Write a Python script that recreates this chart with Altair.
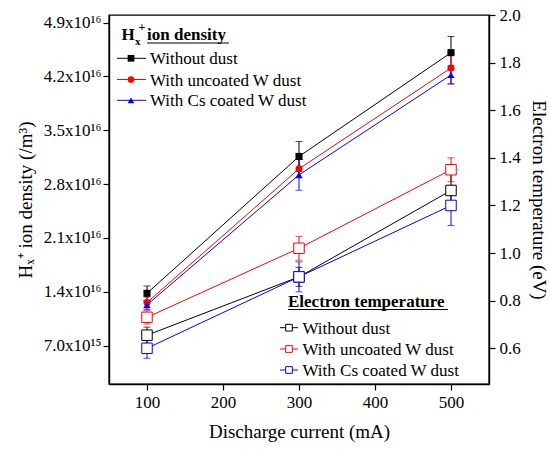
import altair as alt
import pandas as pd

# ---------------- data ----------------
currents = [100, 300, 500]
series = ["Without dust", "With uncoated W dust", "With Cs coated W dust"]
colors = ["#000000", "#ff0000", "#0000ff"]
shapes = ["square", "circle", "triangle-up"]

# H_x+ ion density, in units of 1e16 /m^3
ion_without = [1.38, 3.16, 4.51]
ion_uncoated = [1.26, 3.00, 4.31]
ion_cs = [1.23, 2.92, 4.22]
ion_err_without = [0.095, 0.195, 0.21]
ion_err_uncoated = [0.07, 0.12, 0.20]
ion_err_cs = [0.06, 0.20, 0.12]

# electron temperature (eV)
te_without = [0.655, 0.90, 1.263]
te_uncoated = [0.73, 1.02, 1.35]
te_cs = [0.60, 0.90, 1.20]
te_err_without = [0.034, 0.04, 0.08]
te_err_uncoated = [0.028, 0.05, 0.05]
te_err_cs = [0.042, 0.063, 0.084]

ion_ticks = [0.7, 1.4, 2.1, 2.8, 3.5, 4.2, 4.9]
ion_tick_labels = ["7.0x10\u00b9\u2075", "1.4x10\u00b9\u2076", "2.1x10\u00b9\u2076", "2.8x10\u00b9\u2076",
                   "3.5x10\u00b9\u2076", "4.2x10\u00b9\u2076", "4.9x10\u00b9\u2076"]
te_ticks = [0.6, 0.8, 1.0, 1.2, 1.4, 1.6, 1.8, 2.0]
x_ticks = [100, 200, 300, 400, 500]

FONT = "Liberation Serif"
OX, OY = 109, 15  # plot origin on the page (for hand-drawn legends)

# ---------------- tables ----------------
rows_ion, rows_te = [], []
for s, v, e in zip(series, [ion_without, ion_uncoated, ion_cs], [ion_err_without, ion_err_uncoated, ion_err_cs]):
    for c, vv, ee in zip(currents, v, e):
        rows_ion.append({"current": c, "series": s, "val": vv, "lo": vv - ee, "hi": vv + ee})
for s, v, e in zip(series, [te_without, te_uncoated, te_cs], [te_err_without, te_err_uncoated, te_err_cs]):
    for c, vv, ee in zip(currents, v, e):
        rows_te.append({"current": c, "series": s, "val": vv, "lo": vv - ee, "hi": vv + ee})
df_ion = pd.DataFrame(rows_ion)
df_te = pd.DataFrame(rows_te)

label_expr = ""
for t, l in zip(ion_ticks, ion_tick_labels):
    label_expr += f"abs(datum.value - {t}) < 0.01 ? '{l}' : "
label_expr += "''"

xenc = alt.X("current:Q", scale=alt.Scale(domain=[50, 550], nice=False, zero=False),
             axis=alt.Axis(values=x_ticks, title="Discharge current (mA)", format="d",
                           titlePadding=12))
color_scale = alt.Scale(domain=series, range=colors)
shape_scale = alt.Scale(domain=series, range=shapes)

ion_axis = alt.Axis(values=ion_ticks, labelExpr=label_expr, title="H\u2093\u207a ion density (/m\u00b3)",
                    titlePadding=8, labelPadding=2, tickSize=6)
ion_scale = alt.Scale(domain=[0.2, 5.0], nice=False, zero=False)

ion_y = alt.Y("val:Q", scale=ion_scale, axis=ion_axis)
ion_lo = alt.Y("lo:Q", scale=ion_scale, axis=ion_axis)

ion_lines = alt.Chart(df_ion).mark_line(strokeWidth=1).encode(
    x=xenc, y=ion_y, color=alt.Color("series:N", scale=color_scale, legend=None), detail="series:N")
ion_err = alt.Chart(df_ion).mark_errorbar(ticks={"size": 7}, thickness=1).encode(
    x=xenc, y=ion_lo, y2="hi:Q", color=alt.Color("series:N", scale=color_scale, legend=None))
ion_pts = alt.Chart(df_ion).mark_point(filled=True, size=50, opacity=1).encode(
    x=xenc, y=ion_y, color=alt.Color("series:N", scale=color_scale, legend=None),
    shape=alt.Shape("series:N", scale=shape_scale, legend=None))
ion_layer = alt.layer(ion_lines, ion_err, ion_pts)

te_axis = alt.Axis(values=te_ticks, format=".1f", orient="right", title="Electron temperature (eV)",
                   titlePadding=8, labelPadding=4, tickSize=6)
te_scale = alt.Scale(domain=[0.45, 2.0], nice=False, zero=False)
te_y = alt.Y("val:Q", scale=te_scale, axis=te_axis)
te_lo = alt.Y("lo:Q", scale=te_scale, axis=te_axis)

te_lines = alt.Chart(df_te).mark_line(strokeWidth=1).encode(
    x=xenc, y=te_y, color=alt.Color("series:N", scale=color_scale, legend=None), detail="series:N")
te_err = alt.Chart(df_te).mark_errorbar(ticks={"size": 7}, thickness=1).encode(
    x=xenc, y=te_lo, y2="hi:Q", color=alt.Color("series:N", scale=color_scale, legend=None))
te_pts = alt.Chart(df_te).mark_point(shape="square", filled=False, fill="white", fillOpacity=1,
                                      size=110, strokeWidth=1, opacity=1).encode(
    x=xenc, y=te_y, color=alt.Color("series:N", scale=color_scale, legend=None))
te_layer = alt.layer(te_lines, te_err, te_pts)

# ---------------- legends (drawn by hand) ----------------
one = alt.Data(values=[{"a": 0}])
leg = []


def txt(s, x, y, size=17, weight="normal", align="left"):
    return alt.Chart(one).mark_text(text=s, font=FONT, fontSize=size, fontWeight=weight, align=align,
                                    baseline="alphabetic", color="black").encode(
        x=alt.value(x - OX), y=alt.value(y - OY))


def hline(x1, x2, y, color, w=1):
    return alt.Chart(one).mark_rule(color=color, strokeWidth=w).encode(
        x=alt.value(x1 - OX), x2=alt.value(x2 - OX), y=alt.value(y - OY))


def marker(x, y, shape, color, filled):
    if filled:
        m = alt.Chart(one).mark_point(shape=shape, filled=True, size=45, color=color, opacity=1)
    else:
        m = alt.Chart(one).mark_point(shape=shape, filled=False, fill="white", fillOpacity=1,
                                      size=45, color=color, strokeWidth=1, opacity=1)
    return m.encode(x=alt.value(x - OX), y=alt.value(y - OY))


# legend 1: ion density
leg.append(txt("H", 121.5, 40, weight="bold"))
leg.append(txt("x", 135, 45, size=11, weight="bold"))
leg.append(txt("+", 138.5, 31, size=12, weight="bold"))
leg.append(txt("ion density", 147, 40, weight="bold"))
leg.append(hline(147, 229, 43, "black", 1.2))
for i, (s, c, sh) in enumerate(zip(series, colors, shapes)):
    yc = [58.3, 79.5, 100.3][i]
    leg.append(hline(117, 146, yc, c))
    leg.append(marker(131, yc, sh, c, True))
    leg.append(txt(s, 150, yc + 6))

# legend 2: electron temperature
leg.append(txt("Electron temperature", 288, 306.5, weight="bold"))
leg.append(hline(288, 448, 309.5, "black", 1.2))
for i, (s, c) in enumerate(zip(series, colors)):
    yc = [327.7, 349, 370][i]
    leg.append(hline(280, 298, yc, c))
    leg.append(marker(289, yc, "square", c, False))
    leg.append(txt(s, 302.5, yc + 6))

legend_layer = alt.layer(*leg)

chart = alt.layer(ion_layer, te_layer, legend_layer).resolve_scale(
    y="independent", color="independent", shape="independent"
).properties(
    width=380, height=369,
    padding={"left": OX, "top": OY, "right": 61, "bottom": 68},
    autosize=alt.AutoSizeParams(type="none"),
    background="white",
).configure_view(
    stroke="black", strokeWidth=1.4
).configure_axis(
    labelFont=FONT, labelFontSize=17, labelColor="black",
    titleFont=FONT, titleFontSize=19, titleFontWeight="normal", titleColor="black",
    domainColor="black", domainWidth=1.4, tickColor="black", tickWidth=1.2, tickSize=6,
    grid=False, labelPadding=4,
)

chart.save("out.html", embed_options={"renderer": "svg", "actions": False})
